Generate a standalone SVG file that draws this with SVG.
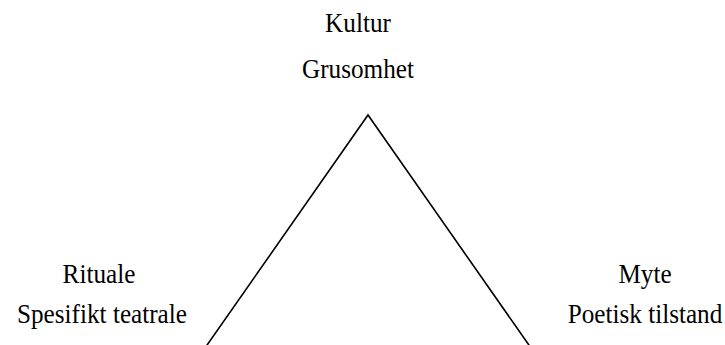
<svg xmlns="http://www.w3.org/2000/svg" width="725" height="345" viewBox="0 0 725 345">
<style>
.lbl{font-family:'Liberation Serif','DejaVu Serif',serif;font-size:28px;fill:#000;text-anchor:middle}
.edge{stroke:#000;stroke-width:1.6;fill:none}
</style>
<rect width="725" height="345" fill="#fff"/>
<g id="connectors">
<polyline class="edge" points="205,348 368,115 531,348"/>
</g>
<g id="node-top">
<text class="lbl" transform="translate(358,32) scale(0.9,1)">Kultur</text>
<text class="lbl" transform="translate(358,78) scale(0.9,1)">Grusomhet</text>
</g>
<g id="node-left">
<text class="lbl" transform="translate(99,283) scale(0.9,1)">Rituale</text>
<text class="lbl" transform="translate(102,323) scale(0.9,1)">Spesifikt teatrale</text>
</g>
<g id="node-right">
<text class="lbl" transform="translate(645,283) scale(0.9,1)">Myte</text>
<text class="lbl" transform="translate(645,323) scale(0.9,1)">Poetisk tilstand</text>
</g>
</svg>
